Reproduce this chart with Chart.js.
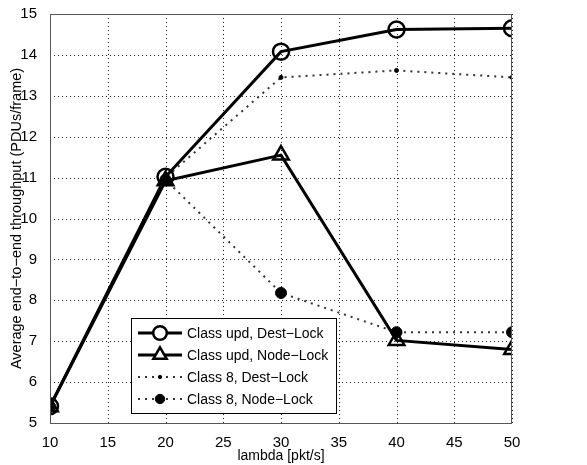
<!DOCTYPE html>
<html>
<head>
<meta charset="utf-8">
<script src="https://cdn.jsdelivr.net/npm/chart.js@4/dist/chart.umd.min.js"></script>
<style>
	html, body { margin: 0; padding: 0; background: #fff; }
	#wrap { width: 587px; height: 465px; }
</style>
</head>
<body>
<div id="wrap"><canvas id="canvas-main"></canvas></div>
<script>
// data
const lambdas = [10, 20, 30, 40, 50];
const updDest = [5.41, 11.02, 14.08, 14.62, 14.65];
const updNode = [5.4, 10.92, 11.55, 7.02, 6.8];
const c8Dest = [5.4, 11.0, 13.45, 13.62, 13.45];
const c8Node = [5.4, 10.95, 8.18, 7.22, 7.22];
const seriesNames = ["Class upd, Dest\u2212Lock", "Class upd, Node\u2212Lock", "Class 8, Dest\u2212Lock", "Class 8, Node\u2212Lock"];

const FONT = "'Liberation Sans', Arial, sans-serif";

function pts(ys) {
	return lambdas.map((x, i) => ({ x: x, y: ys[i] }));
}

// dotted grid, drawn under the lines
const dottedGrid = {
	id: "dottedGrid",
	beforeDatasetsDraw(chart) {
		const { ctx, chartArea: { left, right, top, bottom }, scales: { x, y } } = chart;
		ctx.save();
		ctx.strokeStyle = "#222";
		ctx.lineWidth = 1;
		ctx.setLineDash([1, 3]);
		x.ticks.forEach(t => {
			const px = Math.round(x.getPixelForValue(t.value)) + 0.5;
			ctx.beginPath();
			ctx.moveTo(px, top);
			ctx.lineTo(px, bottom);
			ctx.stroke();
		});
		y.ticks.forEach(t => {
			const py = Math.round(y.getPixelForValue(t.value)) + 0.5;
			ctx.beginPath();
			ctx.moveTo(left, py);
			ctx.lineTo(right, py);
			ctx.stroke();
		});
		ctx.restore();
	}
};

// MATLAB style box round the axes + legend inside the plot
const boxAndLegend = {
	id: "boxAndLegend",
	afterDraw(chart) {
		const { ctx, chartArea: { left, right, top, bottom } } = chart;
		ctx.save();
		ctx.strokeStyle = "#555";
		ctx.lineWidth = 1;
		ctx.setLineDash([]);
		ctx.strokeRect(left + 0.5, top + 0.5, right - left - 1, bottom - top);

		// legend
		const bx = left + 81, by = bottom - 105, bw = 205, bh = 95;
		ctx.fillStyle = "#fff";
		ctx.fillRect(bx, by, bw, bh);
		ctx.strokeStyle = "#000";
		ctx.strokeRect(bx + 0.5, by + 0.5, bw, bh);
		ctx.font = "14px " + FONT;
		ctx.textBaseline = "middle";
		ctx.textAlign = "left";
		chart.data.datasets.forEach((ds, i) => {
			const y = by + 15 + i * 22;
			const x0 = bx + 7, x1 = bx + 51, xm = bx + 29;
			ctx.strokeStyle = ds.borderColor;
			ctx.lineWidth = ds.borderWidth;
			ctx.setLineDash(ds.borderDash || []);
			ctx.beginPath();
			ctx.moveTo(x0, y);
			ctx.lineTo(x1, y);
			ctx.stroke();
			ctx.setLineDash([]);
			ctx.fillStyle = ds.pointBackgroundColor === "#000" ? "#000" : "#fff";
			ctx.strokeStyle = ds.pointBorderColor;
			ctx.lineWidth = ds.pointBorderWidth;
			Chart.helpers.drawPoint(ctx, {
				pointStyle: ds.pointStyle,
				radius: ds.pointRadius * 0.85,
				borderWidth: ds.pointBorderWidth
			}, xm, y);
			ctx.fillStyle = "#000";
			ctx.fillText(ds.label, bx + 56, y + 1);
		});
		ctx.restore();
	}
};

const ctx = document.getElementById("canvas-main").getContext("2d");

const config = {
	type: "line",
	data: {
		datasets: [
			{
				label: seriesNames[0],
				data: pts(updDest),
				borderColor: "#000",
				borderWidth: 3,
				pointStyle: "circle",
				pointRadius: 8,
				pointBorderWidth: 2.5,
				pointBackgroundColor: "rgba(255,255,255,0)",
				pointBorderColor: "#000"
			},
			{
				label: seriesNames[1],
				data: pts(updNode),
				borderColor: "#000",
				borderWidth: 3,
				pointStyle: "triangle",
				pointRadius: 9,
				pointBorderWidth: 2.5,
				pointBackgroundColor: "rgba(255,255,255,0)",
				pointBorderColor: "#000"
			},
			{
				label: seriesNames[2],
				data: pts(c8Dest),
				borderColor: "#333",
				borderWidth: 2,
				borderDash: [2, 5],
				pointStyle: "circle",
				pointRadius: 2,
				pointBorderWidth: 1,
				pointBackgroundColor: "#000",
				pointBorderColor: "#000"
			},
			{
				label: seriesNames[3],
				data: pts(c8Node),
				borderColor: "#333",
				borderWidth: 2,
				borderDash: [2, 5],
				pointStyle: "circle",
				pointRadius: 5.5,
				pointBorderWidth: 1,
				pointBackgroundColor: "#000",
				pointBorderColor: "#000"
			}
		]
	},
	options: {
		responsive: true,
		maintainAspectRatio: false,
		animation: false,
		layout: { padding: { top: 13, right: 75, left: 0, bottom: 0 } },
		plugins: {
			legend: { display: false },
			tooltip: { enabled: false }
		},
		scales: {
			x: {
				type: "linear",
				min: 10,
				max: 50,
				afterFit(scale) { scale.height = 42; },
				ticks: {
					stepSize: 5,
					color: "#000",
					font: { family: FONT, size: 15 },
					padding: 3
				},
				grid: { display: false },
				border: { display: false },
				title: {
					display: true,
					text: "lambda [pkt/s]",
					color: "#000",
					font: { family: FONT, size: 14 },
					padding: { top: 0, bottom: 0 }
				}
			},
			y: {
				min: 5,
				max: 15,
				afterFit(scale) { scale.width = 50; },
				ticks: {
					stepSize: 1,
					color: "#000",
					font: { family: FONT, size: 15 },
					padding: 5
				},
				grid: { display: false },
				border: { display: false },
				title: {
					display: true,
					text: "Average end\u2212to\u2212end throughput (PDUs/frame)",
					color: "#000",
					font: { family: FONT, size: 14.5 },
					padding: { top: 8, bottom: 0 }
				}
			}
		}
	},
	plugins: [dottedGrid, boxAndLegend]
};

const myChart = new Chart(ctx, config);
</script>
</body>
</html>
